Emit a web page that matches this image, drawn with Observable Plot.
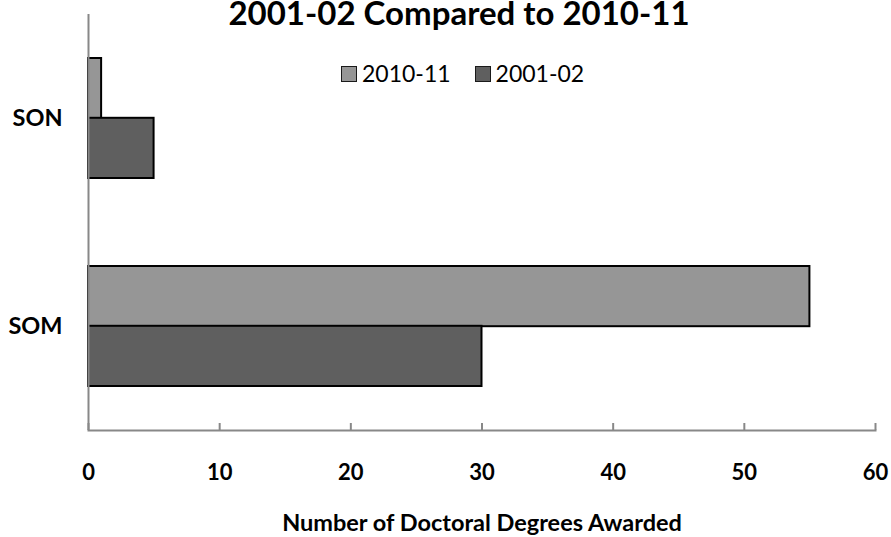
<!DOCTYPE html>
<html>
<head>
<meta charset="utf-8">
<script src="https://cdn.jsdelivr.net/npm/d3@7"></script>
<script src="https://cdn.jsdelivr.net/npm/@observablehq/plot@0.6"></script>
<style>
  html, body { margin: 0; padding: 0; background: #fff; }
  #wrap { position: relative; width: 891px; height: 537px; overflow: hidden; font-family: Lato, "Open Sans", sans-serif; }
  #legend { position: absolute; left: 341px; top: 62px; display: flex; align-items: center; gap: 24px; font-size: 23px; line-height: 1; color: #000; }
  #legend .item { display: flex; align-items: center; }
  #legend .sw { width: 16px; height: 16px; box-sizing: border-box; border: 1.5px solid #1a1a1a; margin-right: 5px; }
</style>
</head>
<body>
<div id="wrap"><div id="legend"></div></div>
<script>
// ---- data ----
const categories = ["SON", "SOM"];
const series = ["2010-11", "2001-02"];
const values2010 = [1, 55];
const values2001 = [5, 30];
const xTicks = [0, 10, 20, 30, 40, 50, 60];
const titleText = "2001-02 Compared to 2010-11";
const xLabel = "Number of Doctoral Degrees Awarded";
const fills = ["#969696", "#5f5f5f"];

// ---- build ----
const rows2010 = categories.map((c, i) => ({category: c, series: series[0], value: values2010[i]}));
const rows2001 = categories.map((c, i) => ({category: c, series: series[1], value: values2001[i]}));

const W = 891, H = 537;
const mTop = 14, mBottom = 107, mLeft = 88, mRight = 16;
const pIn = 0.425, pOut = 0.2125;
const step = (H - mTop - mBottom) / (categories.length - pIn + 2 * pOut);
const half = step * (1 - pIn) / 2;

const chart = Plot.plot({
  width: W,
  height: H,
  marginTop: mTop,
  marginBottom: mBottom,
  marginLeft: mLeft,
  marginRight: mRight,
  style: {fontFamily: "Lato, 'Open Sans', sans-serif", background: "#fff", color: "#000", overflow: "visible"},
  x: {domain: [0, 60]},
  y: {domain: categories, paddingInner: pIn, paddingOuter: pOut},
  color: {domain: series, range: fills},
  marks: [
    Plot.barX(rows2010, {x: "value", y: "category", fill: "series", stroke: "#000", strokeWidth: 2, insetBottom: half}),
    Plot.barX(rows2001, {x: "value", y: "category", fill: "series", stroke: "#000", strokeWidth: 2, insetTop: half}),
    Plot.frame({anchor: "bottom", stroke: "#888", strokeWidth: 2}),
    Plot.ruleX([0], {stroke: "#888", strokeWidth: 2}),
    Plot.axisX({ticks: xTicks, tickSize: -7, tickFormat: () => "", stroke: "#888", strokeWidth: 2, label: null}),
    Plot.axisX({ticks: xTicks, tickSize: 0, tickPadding: 34, fontSize: 22, fontWeight: "bold", label: null}),
    Plot.axisY({tickSize: 0, tickPadding: 26, fontSize: 23.5, fontWeight: "bold", label: null}),
    Plot.text([titleText], {frameAnchor: "top", lineAnchor: "bottom", dx: -23, dy: 10, fontSize: 33, fontWeight: "bold", text: d => d}),
    Plot.text([xLabel], {frameAnchor: "bottom", lineAnchor: "bottom", dy: 100, fontSize: 23.5, fontWeight: "bold", text: d => d})
  ]
});

const wrap = document.getElementById("wrap");
wrap.insertBefore(chart, wrap.firstChild);

const legend = document.getElementById("legend");
series.forEach((s, i) => {
  const item = document.createElement("div");
  item.className = "item";
  const sw = document.createElement("span");
  sw.className = "sw";
  sw.style.background = fills[i];
  const t = document.createElement("span");
  t.textContent = s;
  item.appendChild(sw);
  item.appendChild(t);
  legend.appendChild(item);
});
</script>
</body>
</html>
